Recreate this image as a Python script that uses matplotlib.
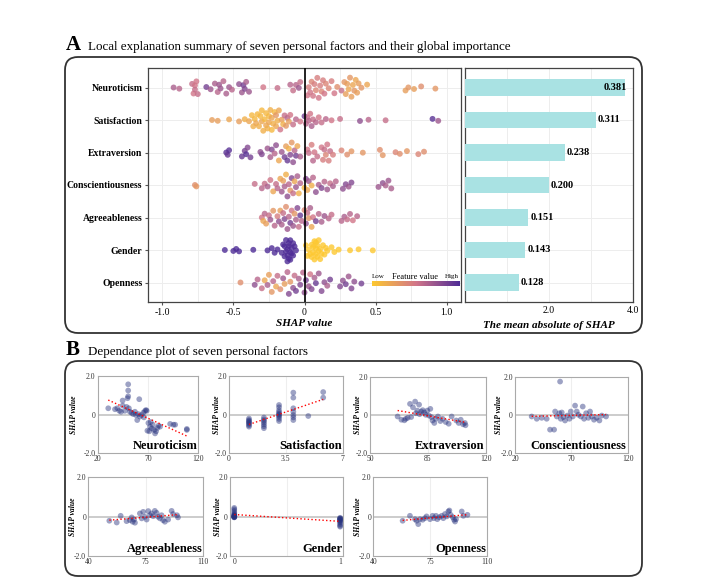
import numpy as np
import matplotlib
matplotlib.use('Agg')
import matplotlib.pyplot as plt
from matplotlib.colors import LinearSegmentedColormap
from matplotlib.patches import FancyBboxPatch
from matplotlib.transforms import IdentityTransform

plt.rcParams['font.family'] = 'Liberation Serif'

W, H = 714, 583

# ---- panel A data ----
features = ['Neuroticism', 'Satisfaction', 'Extraversion', 'Conscientiousness',
            'Agreeableness', 'Gender', 'Openness']
mean_abs_shap = [0.381, 0.311, 0.238, 0.200, 0.151, 0.143, 0.128]

# SHAP value of each person and the scaled feature value (0 = low, 1 = high)
neuro_shap = [-0.92, -0.88, -0.79, -0.78, -0.77, -0.77, -0.76, -0.75, -0.69, -0.66,
              -0.63, -0.61, -0.60, -0.59, -0.57, -0.55, -0.53, -0.51, -0.46, -0.44,
              -0.43, -0.42, -0.41, -0.39, -0.29, -0.19, -0.10, -0.08, -0.06, -0.04,
              -0.03, 0.02, 0.03, 0.04, 0.05, 0.06, 0.07, 0.08, 0.09, 0.10,
              0.11, 0.12, 0.13, 0.14, 0.15, 0.17, 0.19, 0.21, 0.23, 0.26,
              0.28, 0.29, 0.30, 0.31, 0.32, 0.33, 0.34, 0.35, 0.36, 0.37,
              0.38, 0.40, 0.44, 0.71, 0.73, 0.77, 0.82, 0.92]
neuro_feat = [0.65, 0.60, 0.55, 0.50, 0.50, 0.55, 0.50, 0.55,
              0.85, 0.70, 0.65, 0.60, 0.70, 0.70, 0.60, 0.65, 0.70, 0.60,
              0.75, 0.70, 0.85, 0.80, 0.65, 0.70,
              0.50, 0.55, 0.60, 0.55, 0.60, 0.70, 0.55,
              0.50, 0.45, 0.50, 0.40, 0.50, 0.45, 0.40, 0.45, 0.50, 0.45, 0.40, 0.45, 0.50, 0.40,
              0.40, 0.45, 0.50, 0.35, 0.55, 0.30, 0.25, 0.25, 0.20, 0.30, 0.25, 0.20, 0.30, 0.20,
              0.25, 0.25, 0.30, 0.20,
              0.25, 0.30, 0.25, 0.35, 0.30]

sat_shap = [-0.65, -0.61, -0.53, -0.46, -0.42, -0.39, -0.37, -0.36, -0.35, -0.34,
            -0.33, -0.32, -0.31, -0.30, -0.30, -0.29, -0.28, -0.27, -0.27, -0.26,
            -0.25, -0.25, -0.24, -0.23, -0.23, -0.22, -0.21, -0.20, -0.20, -0.19,
            -0.18, -0.17, -0.16, -0.15, -0.14, -0.13, -0.12, -0.11, -0.10, -0.08,
            -0.06, -0.03, 0.00, 0.01, 0.02, 0.03, 0.04, 0.05, 0.06, 0.08,
            0.10, 0.12, 0.15, 0.19, 0.25, 0.39, 0.45, 0.57, 0.90, 0.94]
sat_feat = [0.25, 0.25, 0.20, 0.25, 0.15, 0.20,
            0.10, 0.15, 0.10, 0.20, 0.10, 0.15, 0.10, 0.20, 0.10, 0.15, 0.10, 0.20, 0.10, 0.15,
            0.10, 0.20, 0.15, 0.10, 0.20, 0.15, 0.10, 0.20, 0.30, 0.15, 0.20,
            0.50, 0.25, 0.15, 0.55, 0.30, 0.60, 0.25, 0.50, 0.55, 0.60, 0.50,
            0.85, 0.60, 0.55, 0.60, 0.50, 0.65, 0.55, 0.60, 0.50, 0.55, 0.60, 0.50, 0.55,
            0.75, 0.60, 0.55, 0.95, 0.70]

extra_shap = [-0.55, -0.54, -0.53, -0.44, -0.42, -0.41, -0.40, -0.38, -0.31, -0.30,
              -0.26, -0.24, -0.23, -0.21, -0.20, -0.18, -0.16, -0.14, -0.13, -0.12,
              -0.11, -0.10, -0.09, -0.08, -0.07, -0.06, -0.05, -0.03, 0.02, 0.03,
              0.05, 0.06, 0.07, 0.09, 0.12, 0.13, 0.14, 0.15, 0.16, 0.17,
              0.18, 0.20, 0.26, 0.30, 0.33, 0.41, 0.53, 0.55, 0.64, 0.67,
              0.72, 0.80, 0.84]
extra_feat = [0.95, 0.90, 0.95, 0.90, 0.85, 0.95, 0.80, 0.85,
              0.75, 0.80,
              0.70, 0.65, 0.80, 0.60, 0.75,
              0.20, 0.70, 0.85, 0.25, 0.90, 0.15, 0.80, 0.30, 0.75, 0.60, 0.85, 0.20, 0.65,
              0.50, 0.55, 0.45, 0.60, 0.50, 0.55,
              0.50, 0.45, 0.55, 0.40, 0.50, 0.45, 0.55, 0.45,
              0.40, 0.35, 0.30, 0.30,
              0.35, 0.30, 0.40, 0.35, 0.30, 0.40, 0.35]

consc_shap = [-0.77, -0.76, -0.35, -0.30, -0.28, -0.26, -0.24, -0.22, -0.20, -0.19,
              -0.17, -0.16, -0.15, -0.14, -0.13, -0.12, -0.11, -0.10, -0.09, -0.08,
              -0.07, -0.06, -0.05, -0.04, -0.03, 0.00, 0.01, 0.02, 0.03, 0.05,
              0.06, 0.08, 0.10, 0.12, 0.14, 0.16, 0.18, 0.20, 0.22, 0.27,
              0.29, 0.31, 0.33, 0.52, 0.55, 0.57, 0.59, 0.61]
consc_feat = [0.35, 0.30, 0.55,
              0.60, 0.55, 0.65, 0.50, 0.20, 0.55, 0.60, 0.20, 0.70, 0.25, 0.65,
              0.15, 0.75, 0.60, 0.30, 0.80, 0.55, 0.20, 0.70, 0.65, 0.15, 0.60,
              0.10, 0.80, 0.20, 0.70, 0.15, 0.60,
              0.75, 0.65, 0.80, 0.60, 0.70, 0.55, 0.65, 0.60,
              0.75, 0.80, 0.70, 0.80,
              0.70, 0.75, 0.65, 0.70, 0.65]

agree_shap = [-0.30, -0.29, -0.28, -0.27, -0.25, -0.24, -0.22, -0.21, -0.19, -0.18,
              -0.17, -0.16, -0.15, -0.14, -0.13, -0.12, -0.11, -0.10, -0.09, -0.08,
              -0.07, -0.06, -0.05, -0.04, -0.03, -0.02, 0.00, 0.01, 0.02, 0.03,
              0.04, 0.05, 0.06, 0.08, 0.10, 0.12, 0.14, 0.17, 0.19, 0.26,
              0.28, 0.30, 0.32, 0.34, 0.37]
agree_feat = [0.50, 0.20, 0.60, 0.25, 0.55, 0.70, 0.30, 0.60, 0.45, 0.75,
              0.25, 0.65, 0.55, 0.80, 0.35, 0.70, 0.60, 0.85, 0.50, 0.70,
              0.30, 0.65, 0.80, 0.55, 0.90, 0.60, 0.40, 0.75, 0.55, 0.30,
              0.65, 0.20, 0.50, 0.85, 0.60, 0.65, 0.70, 0.60, 0.55, 0.60,
              0.65, 0.55, 0.60, 0.50, 0.60]

gender_shap = [-0.56, -0.50, -0.48, -0.46, -0.36, -0.26, -0.23, -0.21, -0.19, -0.16,
               -0.15, -0.14, -0.14, -0.13, -0.13, -0.12, -0.12, -0.12, -0.11, -0.11,
               -0.11, -0.10, -0.10, -0.10, -0.09, -0.09, -0.08, -0.08, -0.07, -0.06,
               0.01, 0.02, 0.03, 0.04, 0.05, 0.05, 0.06, 0.06, 0.07, 0.07,
               0.08, 0.08, 0.08, 0.09, 0.09, 0.10, 0.10, 0.11, 0.11, 0.12,
               0.13, 0.14, 0.15, 0.16, 0.19, 0.21, 0.24, 0.32, 0.38, 0.48]
gender_feat = [1] * 30 + [0] * 30

open_shap = [-0.45, -0.35, -0.33, -0.30, -0.28, -0.26, -0.25, -0.23, -0.22, -0.20,
             -0.19, -0.17, -0.15, -0.14, -0.12, -0.11, -0.10, -0.08, -0.07, -0.06,
             -0.04, -0.03, -0.01, 0.00, 0.01, 0.03, 0.04, 0.05, 0.07, 0.08,
             0.10, 0.12, 0.14, 0.16, 0.18, 0.25, 0.27, 0.29, 0.31, 0.33,
             0.35, 0.40]
open_feat = [0.35, 0.75, 0.60, 0.55, 0.20, 0.65, 0.25, 0.30, 0.60, 0.20,
             0.55, 0.35, 0.70, 0.25, 0.60, 0.80, 0.30, 0.75, 0.55, 0.85,
             0.65, 0.80, 0.60, 0.75, 0.85, 0.70, 0.50, 0.80, 0.65, 0.90,
             0.70, 0.80, 0.75, 0.65, 0.85, 0.80, 0.75, 0.85, 0.70, 0.80,
             0.75, 0.85]

# ---- panel B data (feature value vs SHAP value) ----
dep_neuro_x = [30.5, 37.2, 39.5, 41.5, 43.2, 44.8, 44.8, 47.0, 48.7, 49.7,
               50.3, 50.3, 50.3, 51.0, 52.0, 53.7, 55.3, 57.0, 58.0, 59.3,
               60.3, 61.3, 62.0, 63.6, 65.3, 66.0, 67.0, 68.0, 68.7, 69.4,
               70.4, 71.3, 72.0, 72.7, 73.7, 74.7, 76.0, 77.0, 78.0, 79.3,
               80.4, 82.0, 92.0, 95.3, 97.0, 108.6, 108.6]
dep_neuro_y = [0.33, 0.28, 0.33, 0.20, 0.15, 0.47, 0.73, 0.20, 0.40, 0.85,
               1.57, 1.25, 0.95, 0.33, 0.15, 0.10, 0.03, 0.15, -0.02, -0.28,
               0.03, 0.80, -0.10, -0.02, 0.10, -0.14, 0.19, 0.24, 0.20, -0.83,
               -0.43, -0.86, -0.62, -0.38, -0.71, -0.52, -0.79, -0.97, -0.86, -0.69,
               -0.57, -0.62, -0.48, -0.52, -0.52, -0.79, -0.74]

dep_sat_x = [1.23, 1.23, 1.23, 1.23, 1.23, 1.23, 1.23, 1.23,
             2.15, 2.15, 2.15, 2.15, 2.15, 2.15, 2.15,
             3.08, 3.08, 3.08, 3.08, 3.08, 3.08, 3.08, 3.08, 3.08, 3.08,
             3.96, 3.96, 3.96, 3.96, 3.96, 3.96, 3.96,
             4.88, 5.80, 5.80]
dep_sat_y = [-0.20, -0.28, -0.33, -0.38, -0.43, -0.48, -0.55, -0.62,
             -0.15, -0.25, -0.32, -0.40, -0.50, -0.60, -0.70,
             0.50, 0.38, 0.22, 0.12, 0.05, 0.00, -0.05, -0.12, -0.22, -0.33,
             1.14, 0.88, 0.33, 0.15, -0.02, -0.14, -0.28,
             -0.07, 1.17, 0.88]

dep_extra_x = [66.7, 69.0, 70.8, 71.7, 72.8, 74.2, 74.9, 76.0, 77.3, 77.8,
               78.6, 79.7, 80.0, 81.0, 81.9, 82.8, 83.7, 84.7, 85.6, 86.5,
               87.1, 87.8, 88.9, 89.7, 91.1, 92.6, 93.9, 95.8, 97.6, 99.4,
               102.2, 103.7, 104.9, 106.3, 107.4, 107.8]
dep_extra_y = [-0.07, -0.24, -0.27, -0.19, -0.14, 0.59, -0.10, 0.41, 0.71, 0.10,
               0.24, 0.55, 0.05, 0.19, 0.26, 0.14, 0.02, 0.24, -0.02, 0.33,
               -0.10, -0.28, -0.41, -0.19, -0.07, -0.31, -0.19, -0.36, -0.45, -0.07,
               -0.28, -0.41, -0.24, -0.48, -0.41, -0.53]

dep_consc_x = [34.8, 39.3, 43.7, 48.1, 51.1, 54.7, 55.6, 57.1, 59.4, 60.0,
               60.6, 61.5, 62.9, 64.4, 66.5, 68.3, 69.5, 71.3, 73.3, 74.8,
               76.2, 78.4, 80.1, 81.3, 83.1, 85.1, 86.6, 88.1, 90.1, 92.5,
               94.9, 97.0, 100.8]
dep_consc_y = [-0.07, -0.19, -0.14, -0.19, -0.76, -0.76, 0.19, -0.07, 0.10, 1.76,
               -0.19, 0.14, -0.10, -0.28, -0.02, -0.19, 0.19, -0.07, 0.50, 0.19,
               0.02, -0.07, 0.45, -0.19, 0.10, -0.14, 0.19, -0.07, -0.24, -0.14,
               -0.28, -0.02, -0.07]

dep_agree_x = [52.8, 57.3, 59.7, 63.3, 65.3, 66.4, 67.0, 67.8, 68.4, 71.4,
               72.5, 73.4, 74.4, 75.5, 76.5, 77.5, 78.5, 79.5, 80.5, 81.6,
               82.5, 83.6, 84.6, 85.5, 86.6, 88.6, 90.7, 91.6, 94.0, 94.6]
dep_agree_y = [-0.20, -0.29, 0.05, -0.22, -0.17, -0.03, -0.25, -0.14, -0.30, 0.17,
               -0.08, 0.25, 0.00, -0.14, 0.29, 0.08, 0.17, 0.03, 0.30, 0.20,
               0.00, -0.08, 0.08, -0.17, -0.25, -0.14, 0.30, 0.14, 0.08, -0.03]

dep_gender_x = [0, 0, 0, 0, 0, 0, 0, 0, 0, 0, 0, 0, 0, 0, 0,
                1, 1, 1, 1, 1, 1, 1, 1, 1, 1, 1, 1]
dep_gender_y = [0.45, 0.38, 0.30, 0.22, 0.15, 0.10, 0.08, 0.05, 0.04, 0.02,
                0.01, 0.00, -0.01, -0.02, -0.03,
                -0.05, -0.08, -0.10, -0.12, -0.15, -0.18, -0.20, -0.25, -0.30,
                -0.38, -0.45, -0.50]

dep_open_x = [58.0, 62.5, 65.6, 66.6, 67.6, 68.7, 70.3, 71.7, 72.7, 74.8,
              76.4, 77.2, 78.5, 79.3, 80.5, 82.0, 83.0, 84.0, 85.1, 86.1,
              86.7, 87.5, 88.8, 89.6, 90.2, 90.8, 94.3, 95.3, 97.8]
dep_open_y = [-0.20, 0.05, -0.12, -0.20, -0.37, -0.12, -0.15, -0.07, 0.02, -0.12,
              0.05, -0.07, 0.05, -0.12, -0.02, 0.05, -0.07, 0.14, 0.02, 0.27,
              0.32, 0.10, -0.02, -0.15, -0.24, -0.12, 0.27, 0.05, 0.10]

cmap = LinearSegmentedColormap.from_list('shap', ['#FDC830', '#D27689', '#4E2C96'])

fig = plt.figure(figsize=(W / 100, H / 100), dpi=100)


def px_axes(l, t, r, b):
    return fig.add_axes([l / W, 1 - b / H, (r - l) / W, (b - t) / H])


def px_box(l, t, r, b):
    box = FancyBboxPatch((l, H - b), r - l, b - t,
                         boxstyle='round,pad=0,rounding_size=13',
                         transform=IdentityTransform(), fill=False,
                         ec='#333333', lw=1.3, zorder=0)
    fig.add_artist(box)


def vdc(n):
    # van der Corput sequence, used for quasirandom spreading like ggbeeswarm
    out = np.zeros(n)
    for i in range(n):
        k, f, v = i + 1, 0.5, 0.0
        while k:
            v += f * (k & 1)
            k >>= 1
            f /= 2
        out[i] = v
    return out


def spread(vals, width=0.38, bw=0.035):
    vals = np.asarray(vals, dtype=float)
    d = np.exp(-0.5 * ((vals[:, None] - vals[None, :]) / bw) ** 2).sum(1)
    d = d / d.max()
    order = np.argsort(vals, kind='stable')
    off = np.zeros(len(vals))
    off[order] = (vdc(len(vals)) - 0.5) * 2 * width * d[order]
    return off


# ---- frames and headings ----
px_box(65, 57, 642, 333)
px_box(65, 361, 642, 576)

fig.text(66 / W, 1 - 50 / H, 'A', fontsize=15, fontweight='bold', va='baseline')
fig.text(88 / W, 1 - 50 / H,
         'Local explanation summary of seven personal factors and their global importance',
         fontsize=9.4, va='baseline')
fig.text(66 / W, 1 - 355 / H, 'B', fontsize=15, fontweight='bold', va='baseline')
fig.text(88 / W, 1 - 355 / H, 'Dependance plot of seven personal factors',
         fontsize=9.4, va='baseline')

# ---- beeswarm ----
rows = np.arange(7, 0, -1)
shap_rows = [neuro_shap, sat_shap, extra_shap, consc_shap, agree_shap, gender_shap, open_shap]
feat_rows = [neuro_feat, sat_feat, extra_feat, consc_feat, agree_feat, gender_feat, open_feat]

ax = px_axes(148, 68, 461, 302)
for r, sv, fv in zip(rows, shap_rows, feat_rows):
    ax.scatter(sv, r + spread(sv), c=fv, cmap=cmap, vmin=0, vmax=1, s=18,
               alpha=0.8, edgecolors='none', zorder=3)
ax.axvline(0, color='black', lw=1.2, zorder=4)
ax.set_xlim(-1.1, 1.1)
ax.set_ylim(0.4, 7.6)
ax.set_xticks([-1, -0.5, 0, 0.5, 1])
ax.set_xticklabels(['-1.0', '-0.5', '0', '0.5', '1.0'], fontsize=7)
ax.set_xticks([-0.75, -0.25, 0.25, 0.75], minor=True)
ax.set_yticks(rows)
ax.set_yticklabels(features, fontsize=7, fontweight='bold')
ax.grid(which='both', color='#EDEDED', lw=0.7)
ax.set_axisbelow(True)
ax.tick_params(which='both', length=2, color='#555555', pad=2)
ax.tick_params(which='minor', length=0)
for s in ax.spines.values():
    s.set_color('#444444')
    s.set_linewidth(0.9)
ax.set_xlabel('SHAP value', fontsize=8, style='italic', fontweight='bold', labelpad=2)

# colour legend
cax = px_axes(372, 281, 459, 286)
cax.imshow(np.linspace(0, 1, 256)[None, :], aspect='auto', cmap=cmap)
cax.set_axis_off()
fig.text(372 / W, 1 - 278 / H, 'Low', fontsize=5, va='baseline')
fig.text(415 / W, 1 - 279 / H, 'Feature value', fontsize=6, va='baseline', ha='center')
fig.text(459 / W, 1 - 278 / H, 'High', fontsize=5, va='baseline', ha='right')

# ---- mean |SHAP| bars (axis drawn on a x10 scale as in the original) ----
axb = px_axes(465, 68, 633, 302)
bar_len = np.array(mean_abs_shap) * 10
axb.barh(rows, bar_len, height=0.5, color='#A9E2E3', zorder=3)
for r, v, L in zip(rows, mean_abs_shap, bar_len):
    axb.text(min(L + 0.05, 3.3), r, f'{v:.3f}', fontsize=7.5, fontweight='bold',
             va='center', ha='left', zorder=4)
axb.set_xlim(0, 4)
axb.set_ylim(0.4, 7.6)
axb.set_xticks([2, 4])
axb.set_xticklabels(['2.0', '4.0'], fontsize=7)
axb.set_xticks([1, 3], minor=True)
axb.set_yticks(rows)
axb.set_yticklabels([])
axb.grid(which='both', color='#EDEDED', lw=0.7)
axb.set_axisbelow(True)
axb.tick_params(which='both', length=0, pad=3)
for s in axb.spines.values():
    s.set_color('#444444')
    s.set_linewidth(0.9)
axb.set_xlabel('The mean absolute of SHAP', fontsize=8, style='italic',
               fontweight='bold', labelpad=4)


# ---- dependence plots ----
def dep_panel(box, label_x, x, y, xlim, xticks, xlabels, name):
    a = px_axes(*box)
    x = np.asarray(x, dtype=float)
    y = np.asarray(y, dtype=float)
    a.axhline(0, color='#CCCCCC', lw=1.4, zorder=1)
    a.axvline(np.mean(xlim), color='#EEEEEE', lw=0.8, zorder=0)
    a.scatter(x, y, s=17, color='#27327E', alpha=0.45, edgecolors='none', zorder=2)
    k, b = np.polyfit(x, y, 1)
    xs = np.array([x.min(), x.max()])
    a.plot(xs, k * xs + b, color='red', ls=':', lw=1.0, zorder=3)
    a.set_xlim(*xlim)
    a.set_ylim(-2, 2)
    a.set_xticks(xticks)
    a.set_xticklabels(xlabels, fontsize=5.5)
    a.set_yticks([2, 0, -2])
    a.set_yticklabels(['2.0', '0', '-2.0'], fontsize=5.5)
    a.tick_params(length=0, pad=1.5, colors='#333333')
    for s in a.spines.values():
        s.set_color('#AAAAAA')
        s.set_linewidth(0.8)
    a.set_ylabel('SHAP value', fontsize=5.5, style='italic', fontweight='bold')
    a.yaxis.set_label_coords((label_x - box[0]) / (box[2] - box[0]), 0.5)
    a.text(0.99, 0.02, name, transform=a.transAxes, ha='right', va='bottom',
           fontsize=9, fontweight='bold')
    return a


dep_panel((97.7, 376, 198.3, 453.3), 78, dep_neuro_x, dep_neuro_y, (20, 120),
          [20, 70, 120], ['20', '70', '120'], 'Neuroticism')
dep_panel((229, 376, 342.7, 453.3), 221, dep_sat_x, dep_sat_y, (0, 7),
          [0, 3.5, 7], ['0', '3.5', '7'], 'Satisfaction')
dep_panel((370, 377, 485.7, 453.3), 362, dep_extra_x, dep_extra_y, (50, 120),
          [50, 85, 120], ['50', '85', '120'], 'Extraversion')
dep_panel((515, 377, 627.7, 453.3), 503, dep_consc_x, dep_consc_y, (20, 120),
          [20, 70, 120], ['20', '70', '120'], 'Conscientiousness')
dep_panel((88.3, 477.3, 203.3, 556.3), 77, dep_agree_x, dep_agree_y, (40, 110),
          [40, 75, 110], ['40', '75', '110'], 'Agreeableness')
dep_panel((230, 477.3, 343.3, 556.3), 222, dep_gender_x, dep_gender_y, (-0.04, 1.03),
          [0, 1], ['0', '1'], 'Gender')
dep_panel((373.3, 477.3, 487.3, 556.3), 362, dep_open_x, dep_open_y, (40, 110),
          [40, 75, 110], ['40', '75', '110'], 'Openness')

fig.savefig('out.png', dpi=100)
